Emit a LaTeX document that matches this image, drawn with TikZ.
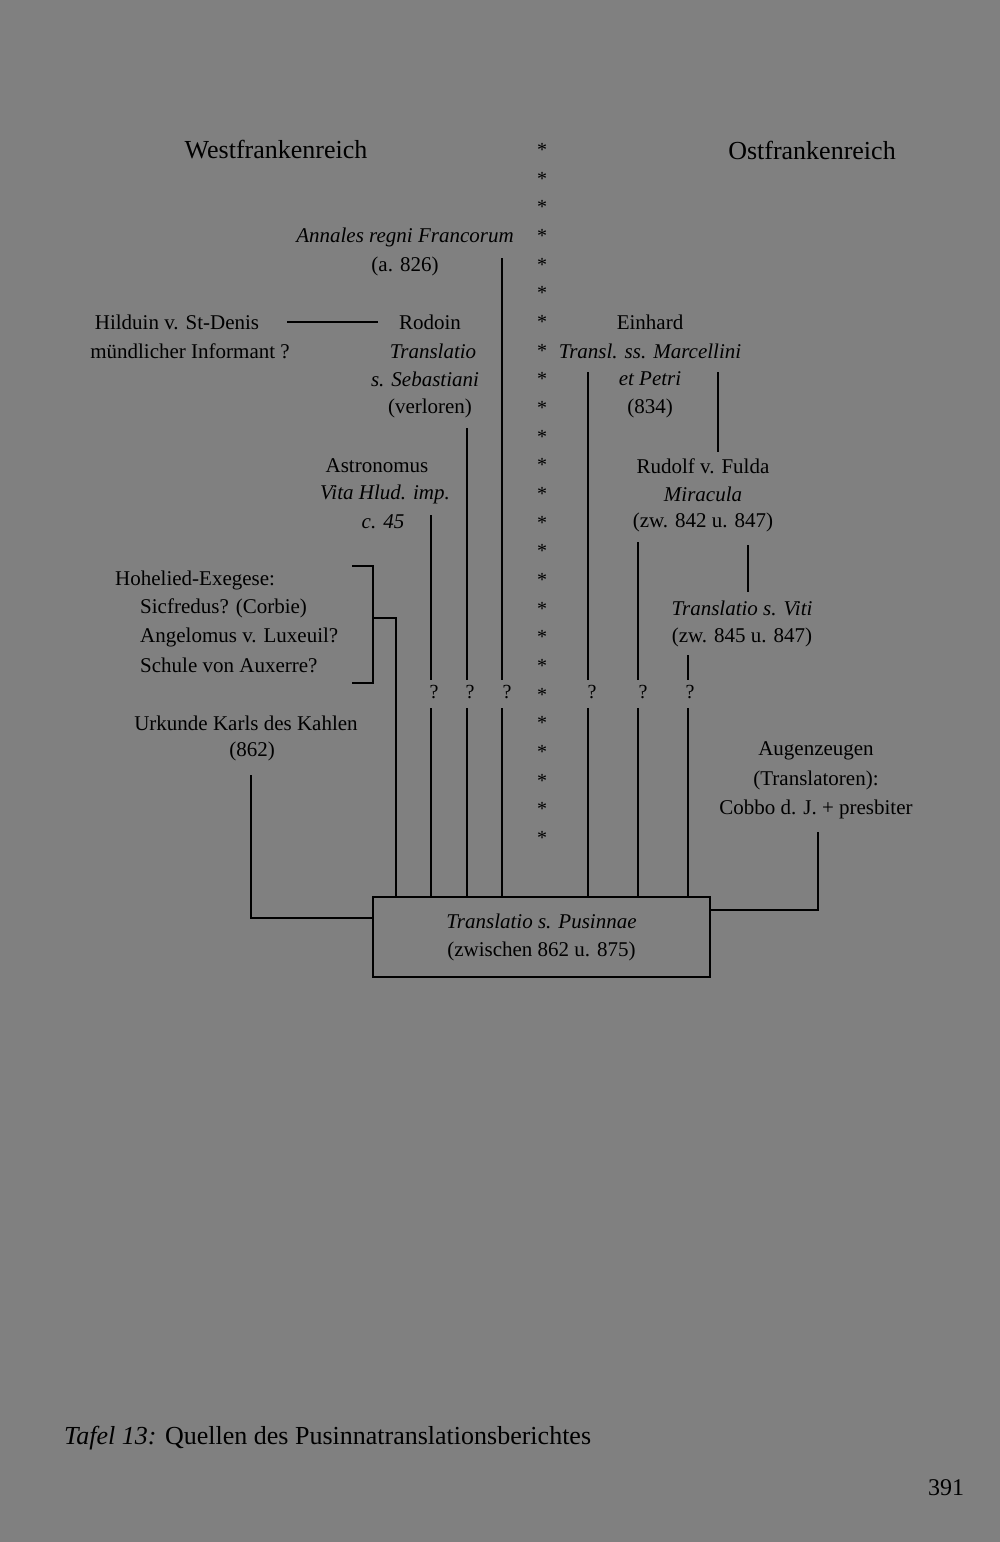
\documentclass[tikz,border=0pt]{standalone}
\usepackage{fontspec}
\setmainfont{Liberation Serif}
\begin{document}
\begin{tikzpicture}[x=1pt,y=-1pt,
  t/.style={inner sep=0pt,font=\fontsize{21}{21}\selectfont,text=black},
  h/.style={inner sep=0pt,font=\fontsize{26}{26}\selectfont,text=black},
  ln/.style={line width=2pt,black},
  q/.style={inner sep=0pt,font=\fontsize{20}{20}\selectfont}]
\fill[fill={rgb,255:red,128;green,128;blue,128}] (0,0) rectangle (1000,1542);
\useasboundingbox (0,0) rectangle (1000,1542);
\node[h] (W) at (276,150) {Westfrankenreich};
\node[h] (O) at (812,150) {Ostfrankenreich};
\foreach \i in {0,...,24}{\node[inner sep=0pt,font=\fontsize{20}{20}\selectfont] (s\i) at (542,{150+\i*28.67}) {*};}
\node[t] (an1) at (405,237) {\itshape Annales regni Francorum};
\node[t] (an2) at (405,266) {(a. 826)};
\node[t] (hi1) at (177,322) {Hilduin v. St-Denis};
\node[t] (hi2) at (190,351) {mündlicher Informant ?};
\node[t] (ro1) at (430,322) {Rodoin};
\node[t] (ro2) at (433,351) {\itshape Translatio};
\node[t] (ro3) at (425,379) {\itshape s. Sebastiani};
\node[t] (ro4) at (430,408) {(verloren)};
\node[t] (as1) at (377,466) {Astronomus};
\node[t] (as2) at (385,494) {\itshape Vita Hlud. imp.};
\node[t] (as3) at (383,522) {\itshape c. 45};
\node[t] (ei1) at (650,322) {Einhard};
\node[t] (ei2) at (650,351) {\itshape Transl. ss. Marcellini};
\node[t] (ei3) at (650,379) {\itshape et Petri};
\node[t] (ei4) at (650,408) {(834)};
\node[t] (ru1) at (703,466) {Rudolf v. Fulda};
\node[t] (ru2) at (703,494) {\itshape Miracula};
\node[t] (ru3) at (703,522) {(zw. 842 u. 847)};
\node[t] (vi1) at (742,608) {\itshape Translatio s. Viti};
\node[t] (vi2) at (742,637) {(zw. 845 u. 847)};
\node[t,anchor=west] (ho1) at (115,580) {Hohelied-Exegese:};
\node[t,anchor=west] (ho2) at (140,608) {Sicfredus? (Corbie)};
\node[t,anchor=west] (ho3) at (140,637) {Angelomus v. Luxeuil?};
\node[t,anchor=west] (ho4) at (140,665) {Schule von Auxerre?};
\node[t] (ur1) at (246,723) {Urkunde Karls des Kahlen};
\node[t] (ur2) at (252,751) {(862)};
\node[t] (au1) at (816,751) {Augenzeugen};
\node[t] (au2) at (816,780) {(Translatoren):};
\node[t] (au3) at (816,809) {Cobbo d. J. + presbiter};
\node[draw,line width=2pt,minimum width=337pt,minimum height=80pt,inner sep=0pt,align=center,font=\fontsize{21}{28}\selectfont] (box) at (541.5,937) {\itshape Translatio s. Pusinnae\\(zwischen 862 u. 875)};
\foreach \n/\x in {q1/434,q2/470,q3/507,q4/592,q5/643,q6/690}{\node[q] (\n) at (\x,692) {?};}
% lines
\draw[ln] (287,322) -- (378,322);
\draw[ln] (502,258) -- (502,680);
\draw[ln] (502,708) -- (502,897);
\draw[ln] (467,428) -- (467,680);
\draw[ln] (467,708) -- (467,897);
\draw[ln] (431,515) -- (431,680);
\draw[ln] (431,708) -- (431,897);
\draw[ln] (588,372) -- (588,680);
\draw[ln] (588,708) -- (588,897);
\draw[ln] (718,372) -- (718,452);
\draw[ln] (638,542) -- (638,680);
\draw[ln] (638,708) -- (638,897);
\draw[ln] (748,545) -- (748,592);
\draw[ln] (688,655) -- (688,680);
\draw[ln] (688,708) -- (688,897);
\draw[ln] (352,566) -- (373,566) -- (373,683) -- (352,683);
\draw[ln] (373,618) -- (396,618) -- (396,897);
\draw[ln] (251,775) -- (251,918) -- (box.west |- 0,918);
\draw[ln] (818,832) -- (818,910) -- (box.east |- 0,910);
\node[anchor=base west,inner sep=0pt,font=\fontsize{26}{26}\selectfont] (cap) at (64,1444) {\textit{Tafel 13:} Quellen des Pusinnatranslationsberichtes};
\node[inner sep=0pt,font=\fontsize{24}{24}\selectfont] (pg) at (946,1488) {391};
\end{tikzpicture}
\end{document}
